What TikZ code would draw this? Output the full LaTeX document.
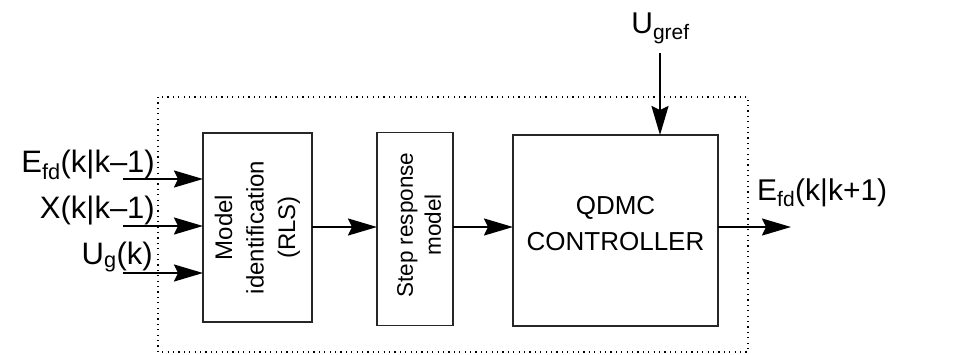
\documentclass[tikz,border=0pt]{standalone}
\usepackage{fontspec}
\setmainfont{Liberation Sans}
\usetikzlibrary{arrows.meta}

\tikzset{
  blk/.style={draw=black!85, line width=1.3pt, inner sep=0pt, outer sep=0pt},
  sig/.style={line width=2pt, -{Stealth[length=29pt, width=17pt, inset=4pt]}},
  lbl/.style={inner sep=0pt, font=\fontsize{31}{36}\selectfont},
}

\begin{document}
\begin{tikzpicture}[x=1pt, y=-1pt]
	\useasboundingbox (0,0) rectangle (957,354);

	% dotted frame
	\draw[line width=1.2pt, dash pattern=on 1.2pt off 4.2pt] (158,97) rectangle (748,352);

	% blocks
	\node[blk, minimum width=109pt, minimum height=189pt] (model) at (257.5,227.5) {};
	\node[rotate=90, align=center, inner sep=0pt, font=\fontsize{24}{31.5}\selectfont] (modeltxt) at (model.center) {Model\\identification\\(RLS)};

	\node[blk, minimum width=76pt, minimum height=193pt] (step) at (415,229) {};
	\node[rotate=90, align=center, inner sep=0pt, font=\fontsize{22.5}{28}\selectfont] (steptxt) at (419,225) {Step response\\model};

	\node[blk, line width=2pt, minimum width=205pt, minimum height=191pt] (qdmc) at (615.5,230.5) {};
	\node[align=center, inner sep=0pt, font=\fontsize{26}{36}\selectfont] (qdmctxt) at (615.5,224) {QDMC\\CONTROLLER};

	% inputs
	\node[lbl, anchor=base east] (efd) at (155,172) {E\textsubscript{fd}(k|k\textendash1)};
	\node[lbl, anchor=base east] (xk) at (155,218) {X(k|k\textendash1)};
	\node[lbl, anchor=base east] (ug) at (153,264) {U\textsubscript{g}(k)};
	\coordinate (in1) at (123,179);
	\coordinate (in2) at (123,226);
	\coordinate (in3) at (123,273);
	\draw[sig] (in1) -- (in1 -| model.west);
	\draw[sig] (in2) -- (in2 -| model.west);
	\draw[sig] (in3) -- (in3 -| model.west);

	% chain
	\coordinate (mid) at (312,227);
	\draw[sig] (mid -| model.east) -- (mid -| step.west);
	\draw[sig] (mid -| step.east) -- (mid -| qdmc.west);

	% reference
	\node[lbl, anchor=base, font=\fontsize{30}{36}\selectfont] (ugref) at (660.5,33) {U\textsubscript{gref}};
	\coordinate (ref) at (660,53);
	\draw[sig] (ref) -- (ref |- qdmc.north);

	% output
	\node[lbl, anchor=base west, font=\fontsize{30}{36}\selectfont] (efdout) at (757,200) {E\textsubscript{fd}(k|k+1)};
	\coordinate (out) at (791,227);
	\draw[sig] (out -| qdmc.east) -- (out);
\end{tikzpicture}
\end{document}
